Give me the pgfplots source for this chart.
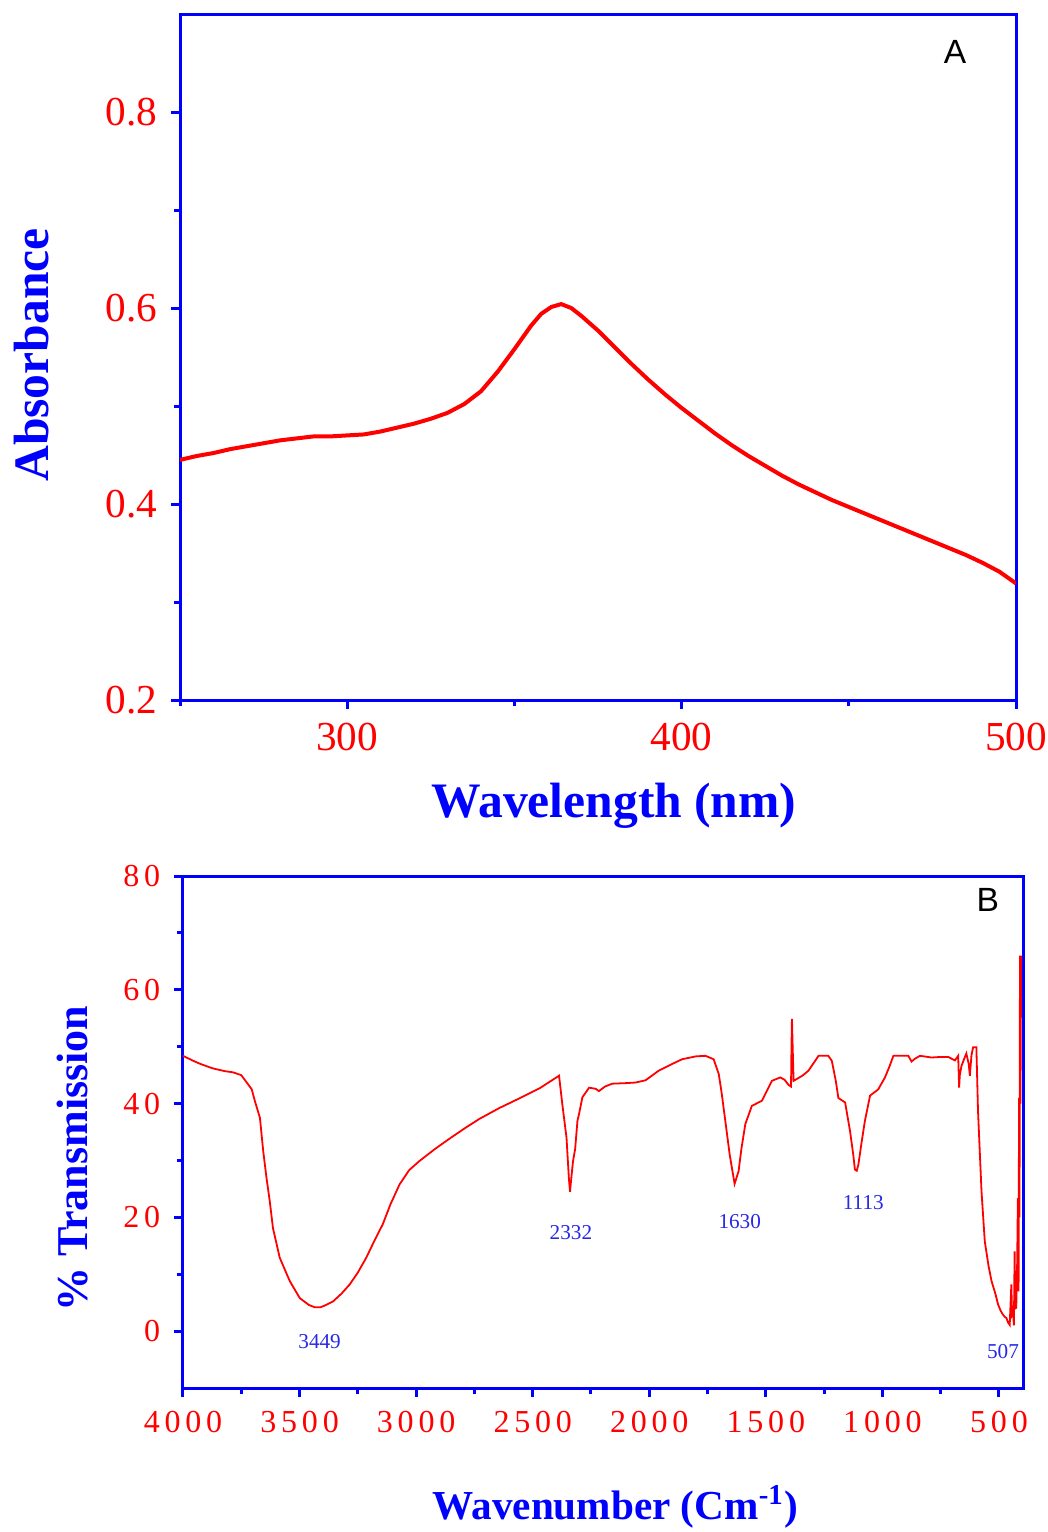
\documentclass[border=0pt]{standalone}
\usepackage{fontspec}
\setmainfont{Liberation Serif}
\newfontfamily\spaced[LetterSpace=15]{Liberation Serif}
\newfontfamily\sans{Liberation Sans}
\usepackage{pgfplots}
\pgfplotsset{compat=1.18}

\definecolor{peakblue}{RGB}{40,40,230}

\pgfplotsset{
  spectrum/.style={
    scale only axis,
    anchor=south west,
    axis line style={blue, line width=0.75pt},
    every tick/.style={blue, line width=0.75pt},
    tick align=outside,
    xtick pos=left, ytick pos=left,
    major tick length=2.2pt, minor tick length=1.5pt,
    /pgf/number format/assume math mode=true,
    /pgf/number format/1000 sep={},
    clip=true,
  },
}

\begin{document}
\begin{tikzpicture}[x=1pt,y=1pt]

% panel A: UV-vis
\begin{axis}[spectrum,
  at={(45pt,-175pt)}, width=209pt, height=171.5pt,
  xmin=250, xmax=500, ymin=0.2, ymax=0.9,
  xtick={300,400,500}, minor xtick={250,350,450},
  ytick={0.2,0.4,0.6,0.8}, minor ytick={0.3,0.5,0.7},
  yticklabel style={/pgf/number format/fixed, /pgf/number format/precision=1},
  tick label style={text=red, font=\fontsize{10.3}{12}\selectfont},
  xlabel={Wavelength (nm)}, ylabel={Absorbance},
  label style={text=blue, font=\bfseries\fontsize{12.4}{14}\selectfont},
  xlabel style={at={(axis description cs:0.519,-0.1545)}, anchor=center},
  ylabel style={at={(axis description cs:-0.177,0.503)}, anchor=center},
]
\addplot[red, line width=1pt] coordinates {
 (250,0.445)(255,0.449)(260,0.452)(265,0.456)(270,0.459)(275,0.462)(280,0.465)
 (285,0.467)(290,0.469)(295,0.469)(300,0.470)(305,0.471)(310,0.474)(315,0.478)
 (320,0.482)(325,0.487)(330,0.493)(335,0.502)(340,0.515)(345,0.535)(350,0.558)
 (355,0.582)(358,0.594)(361,0.601)(364,0.604)(367,0.600)(370,0.592)(375,0.577)
 (380,0.560)(385,0.543)(390,0.527)(395,0.512)(400,0.498)(405,0.485)(410,0.472)
 (415,0.460)(420,0.449)(425,0.439)(430,0.429)(435,0.420)(440,0.412)(445,0.404)
 (450,0.397)(455,0.390)(460,0.383)(465,0.376)(470,0.369)(475,0.362)(480,0.355)
 (485,0.348)(490,0.340)(495,0.331)(500,0.319)
};
\node[font=\sans\fontsize{8.4}{10}\selectfont] at (rel axis cs:0.927,0.945) {A};
\end{axis}

% panel B: FTIR
\begin{axis}[spectrum,
  at={(45.75pt,-347pt)}, width=210pt, height=128pt,
  x dir=reverse, xmin=397, xmax=4000, ymin=-10, ymax=80,
  xtick={500,1000,...,4000}, minor xtick={750,1250,...,3750},
  ytick={0,20,...,80}, minor ytick={10,30,50,70},
  tick label style={text=red, font=\spaced\fontsize{8}{10}\selectfont},
  xlabel={Wavenumber (Cm\textsuperscript{-1})}, ylabel={\% Transmission},
  label style={text=blue, font=\bfseries\fontsize{11}{13}\selectfont},
  xlabel style={at={(axis description cs:0.515,-0.232)}, anchor=center,
    font=\bfseries\fontsize{10.3}{12}\selectfont},
  ylabel style={at={(axis description cs:-0.132,0.448)}, anchor=center},
]
\addplot[red, line width=0.45pt] coordinates {
 (4000,48.4)(3960,47.6)(3927,47.0)(3880,46.3)(3863,46.1)(3820,45.7)(3786,45.5)
 (3750,45.0)(3721,43.4)(3705,42.5)(3692,40.5)(3670,37.5)(3656,31.7)(3642,27.0)
 (3628,22.9)(3614,18.1)(3585,12.9)(3542,8.8)(3499,5.8)(3460,4.6)(3435,4.2)
 (3410,4.2)(3392,4.5)(3357,5.2)(3320,6.6)(3285,8.2)(3250,10.3)(3214,12.9)
 (3180,15.8)(3143,18.8)(3110,22.3)(3071,25.8)(3030,28.3)(2986,29.9)(2920,32.0)
 (2858,33.8)(2790,35.7)(2729,37.3)(2644,39.2)(2558,40.9)(2470,42.7)(2387,44.9)
 (2373,39.9)(2355,34)(2345,27)(2340,24.5)(2333,27.5)(2327,29.9)(2318,32)
 (2308,37)(2301,38.2)(2287,41.1)(2258,42.8)(2230,42.6)(2216,42.2)(2190,43.0)
 (2159,43.5)(2100,43.6)(2059,43.7)(2016,44.1)(1959,45.8)(1900,47.0)(1859,47.8)
 (1800,48.3)(1759,48.4)(1724,47.8)(1702,45.2)(1690,42)(1674,37)(1655,31)
 (1634,25.9)(1617,28.1)(1605,32)(1588,36.4)(1560,39.6)(1517,40.5)(1474,44.0)
 (1438,44.6)(1420,44.2)(1403,43.3)(1392,43.0)(1390,50)(1388,54.9)(1385,50)
 (1381,44.0)(1360,44.5)(1340,45.0)(1317,45.8)(1274,48.4)(1232,48.4)(1217,47.5)
 (1200,44)(1189,41.0)(1160,40.2)(1139,35.2)(1125,31)(1118,28.4)(1110,28.2)
 (1103,29.3)(1090,33)(1075,37.0)(1053,41.4)(1018,42.5)(1000,43.8)(989,44.6)
 (970,46.5)(953,48.4)(920,48.4)(889,48.4)(875,47.4)(860,47.9)(839,48.4)
 (789,48.1)(750,48.2)(718,48.2)(689,47.6)(675,48.4)(671,42.8)(668,45)
 (661,46.6)(650,47.8)(640,48.8)(630,47)(625,44.9)(618,48.5)(611,49.9)
 (597,49.9)(590,38.7)(575,24.6)(561,15.8)(545,11.5)(532,8.8)(515,6.5)
 (504,4.7)(493,3.6)(483,2.9)(475,2.5)(468,2.3)(461,1.5)(454,1.1)(447,8.2)
 (444,3)(440,3.5)(436,1)(433,14)(430,4)(426,4.1)(422,12)(419,23.4)(416,7)
 (414,41.0)(412,20)(410,66)(408,40)(405,66)
};
\begin{scope}[every node/.style={text=peakblue, font=\fontsize{5.3}{6}\selectfont}]
\node at (axis cs:3414,-1.8) {3449};
\node at (axis cs:2336,17.4) {2332};
\node at (axis cs:1612,19.2) {1630};
\node at (axis cs:1082,22.6) {1113};
\node at (axis cs:483,-3.6) {507};
\end{scope}
\node[font=\sans\fontsize{8.4}{10}\selectfont] at (rel axis cs:0.958,0.953) {B};
\end{axis}

% page is exactly the reference frame
\pgfresetboundingbox
\useasboundingbox (0,0) rectangle (262,-383);
\end{tikzpicture}
\end{document}
